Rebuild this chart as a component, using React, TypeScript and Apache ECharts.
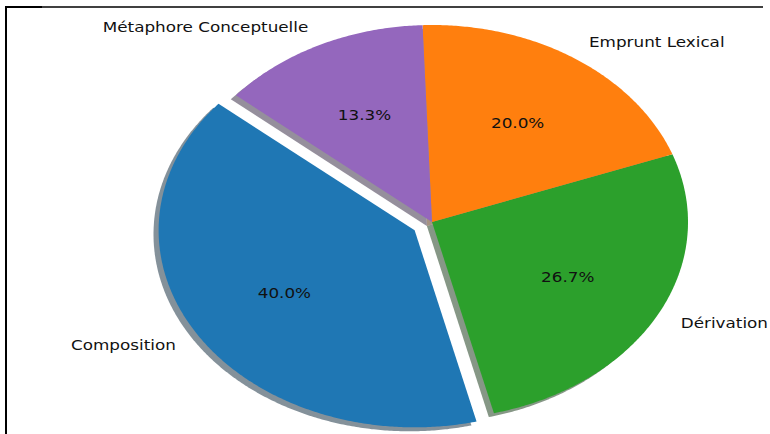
import React, { useEffect, useRef } from "react";
import * as echarts from "echarts";

const categories = ["Composition", "Dérivation", "Emprunt Lexical", "Métaphore Conceptuelle"];
const values = [40.0, 26.7, 20.0, 13.3];
const colors = ["#1f77b4", "#2ca02c", "#ff7f0e", "#9467bd"];
const explode = [0.08, 0, 0, 0];
const START_ANGLE = 140;

const LAYOUT = {
  cx: 432,
  cy: 222,
  rx: 256,
  ry: 197,
  labelDist: 1.1,
  pctDist: 0.6,
  shadow: 0.02,
  fontSize: 14,
  textScaleX: 1.2,
};

const total = values.reduce((a, b) => a + b, 0);

function geom(i: number) {
  let cum = 0;
  for (let k = 0; k < i; k++) cum += values[k];
  const a1 = START_ANGLE + (360 * cum) / total;
  const a2 = a1 + (360 * values[i]) / total;
  const mid = ((a1 + a2) / 2) * (Math.PI / 180);
  const ex = explode[i];
  const ocx = LAYOUT.cx + ex * LAYOUT.rx * Math.cos(mid);
  const ocy = LAYOUT.cy - ex * LAYOUT.ry * Math.sin(mid);
  return { a1, a2, mid, ocx, ocy };
}

function wedgePoints(i: number, dx: number, dy: number) {
  const g = geom(i);
  const pts: number[][] = [[g.ocx + dx, g.ocy + dy]];
  const n = Math.max(8, Math.ceil((g.a2 - g.a1) * 2));
  for (let s = 0; s <= n; s++) {
    const t = ((g.a1 + ((g.a2 - g.a1) * s) / n) * Math.PI) / 180;
    pts.push([g.ocx + dx + LAYOUT.rx * Math.cos(t), g.ocy + dy - LAYOUT.ry * Math.sin(t)]);
  }
  return pts;
}

function shadowColor(hex: string) {
  const r = parseInt(hex.slice(1, 3), 16);
  const g = parseInt(hex.slice(3, 5), 16);
  const b = parseInt(hex.slice(5, 7), 16);
  return `rgba(${Math.round(r * 0.3)},${Math.round(g * 0.3)},${Math.round(b * 0.3)},0.5)`;
}

const textStyle = (text: string, align: string) => ({
  text,
  fill: "#111",
  fontSize: LAYOUT.fontSize,
  fontFamily: "DejaVu Sans",
  align,
  verticalAlign: "middle",
});

export default function App() {
  const ref = useRef<HTMLDivElement>(null);
  useEffect(() => {
    if (!ref.current) return;
    const chart = echarts.init(ref.current, null, { renderer: "svg" });
    const data = values.map((v, i) => ({ name: categories[i], value: [i, v] }));
    chart.setOption({
      animation: false,
      backgroundColor: "#ffffff",
      graphic: [
        { type: "line", shape: { x1: 5, y1: 7, x2: 42, y2: 7 }, style: { stroke: "#000", lineWidth: 2 } },
        { type: "line", shape: { x1: 42, y1: 7, x2: 763, y2: 7 }, style: { stroke: "#000", lineWidth: 1.5 } },
        { type: "line", shape: { x1: 6, y1: 6, x2: 6, y2: 434 }, style: { stroke: "#000", lineWidth: 2 } },
      ],
      series: [
        {
          type: "custom",
          coordinateSystem: "none",
          silent: true,
          z: 1,
          data,
          renderItem: (params: any) => {
            const i = params.dataIndex;
            return {
              type: "polygon",
              shape: { points: wedgePoints(i, -LAYOUT.shadow * LAYOUT.rx, LAYOUT.shadow * LAYOUT.ry) },
              style: { fill: shadowColor(colors[i]) },
            };
          },
        },
        {
          type: "custom",
          coordinateSystem: "none",
          silent: true,
          z: 2,
          data,
          renderItem: (params: any) => {
            const i = params.dataIndex;
            const g = geom(i);
            const c = Math.cos(g.mid);
            const s = Math.sin(g.mid);
            const lx = g.ocx + LAYOUT.labelDist * LAYOUT.rx * c;
            const ly = g.ocy - LAYOUT.labelDist * LAYOUT.ry * s;
            const px = g.ocx + LAYOUT.pctDist * LAYOUT.rx * c;
            const py = g.ocy - LAYOUT.pctDist * LAYOUT.ry * s;
            const pct = ((values[i] / total) * 100).toFixed(1) + "%";
            return {
              type: "group",
              children: [
                {
                  type: "polygon",
                  shape: { points: wedgePoints(i, 0, 0) },
                  style: { fill: colors[i] },
                },
                {
                  type: "text",
                  x: px,
                  y: py,
                  scaleX: LAYOUT.textScaleX,
                  style: textStyle(pct, "center"),
                },
                {
                  type: "text",
                  x: lx,
                  y: ly,
                  scaleX: LAYOUT.textScaleX,
                  style: textStyle(categories[i], c < 0 ? "right" : "left"),
                },
              ],
            };
          },
        },
      ],
    });
    return () => chart.dispose();
  }, []);
  return (
    <div
      ref={ref}
      style={{ position: "fixed", left: 0, top: 0, width: 770, height: 434 }}
    />
  );
}
